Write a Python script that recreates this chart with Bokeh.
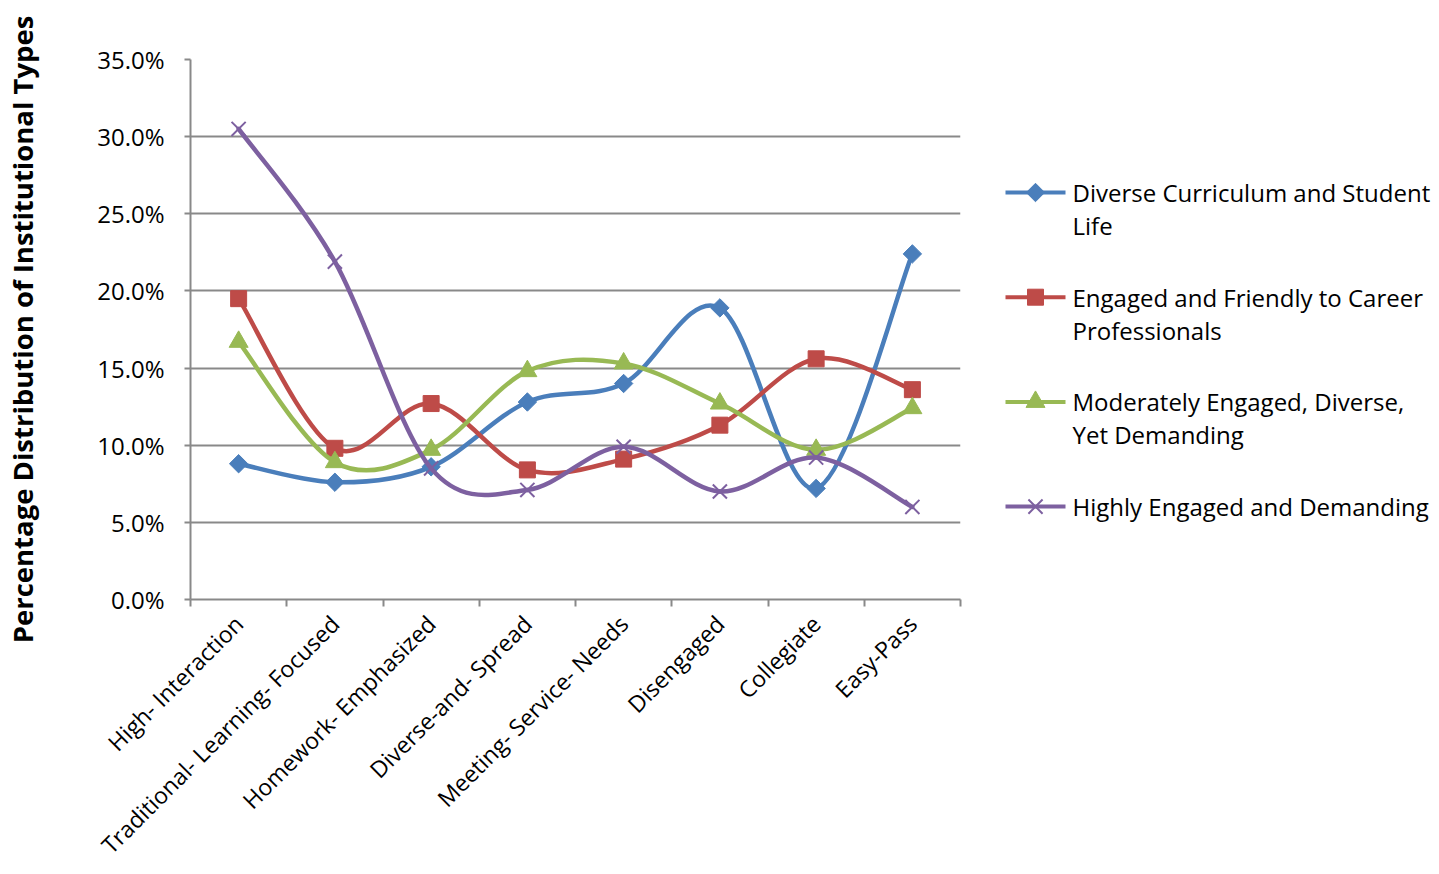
import numpy as np
from bokeh.plotting import figure
from bokeh.models import Range1d, FixedTicker
from bokeh.layouts import row
from bokeh.core.properties import value
from bokeh.embed import file_html
from bokeh.resources import INLINE

# ---------------- data ----------------
categories = ["High- Interaction", "Traditional- Learning- Focused", "Homework- Emphasized",
              "Diverse-and- Spread", "Meeting- Service- Needs", "Disengaged", "Collegiate", "Easy-Pass"]
diverse_curriculum = [8.8, 7.6, 8.6, 12.8, 14.0, 18.9, 7.2, 22.4]
engaged_friendly = [19.5, 9.8, 12.7, 8.4, 9.1, 11.3, 15.6, 13.6]
moderately_engaged = [16.7, 8.9, 9.7, 14.8, 15.3, 12.7, 9.7, 12.4]
highly_engaged = [30.5, 21.9, 8.5, 7.1, 9.9, 7.0, 9.2, 6.0]
series_names = ["Diverse Curriculum and Student Life",
                "Engaged and Friendly to Career Professionals",
                "Moderately Engaged, Diverse, Yet Demanding",
                "Highly Engaged and Demanding"]
legend_lines = [["Diverse Curriculum and Student", "Life"],
                ["Engaged and Friendly to Career", "Professionals"],
                ["Moderately Engaged, Diverse,", "Yet Demanding"],
                ["Highly Engaged and Demanding"]]
y_ticks = [0, 5, 10, 15, 20, 25, 30, 35]
y_tick_labels = ["0.0%", "5.0%", "10.0%", "15.0%", "20.0%", "25.0%", "30.0%", "35.0%"]
y_title = "Percentage Distribution of Institutional Types"

# ---------------- styles ----------------
FONT = "Open Sans"
GRAY = "#898989"
colors = ["#4A7EBB", "#BE4B48", "#98B954", "#7D60A0"]
all_series = [diverse_curriculum, engaged_friendly, moderately_engaged, highly_engaged]

W_MAIN = 985
BORDER_TOP = 59
BORDER_BOTTOM = 275
H = 874
p = figure(width=W_MAIN, height=H, output_backend="svg", toolbar_location=None,
           x_range=Range1d(0, len(categories)), y_range=Range1d(0, 35),
           min_border_left=190, min_border_right=25, min_border_top=BORDER_TOP,
           min_border_bottom=BORDER_BOTTOM)
p.outline_line_color = None
p.background_fill_color = "white"
p.border_fill_color = "white"

# x axis
centers = [i + 0.5 for i in range(len(categories))]
xa = p.xaxis[0]
xa.ticker = FixedTicker(ticks=centers, minor_ticks=list(range(len(categories) + 1)))
xa.major_label_overrides = {c: lab for c, lab in zip(centers, categories)}
xa.major_tick_out = 0
xa.major_tick_in = 0
xa.minor_tick_out = 7
xa.minor_tick_in = 0
xa.minor_tick_line_color = GRAY
xa.minor_tick_line_width = 2
xa.axis_line_color = GRAY
xa.axis_line_width = 2
xa.major_label_orientation = np.pi / 4
xa.major_label_text_font = FONT
xa.major_label_text_font_size = "23px"
xa.major_label_text_color = "black"
xa.major_label_standoff = 13

# y axis
ya = p.yaxis[0]
ya.ticker = FixedTicker(ticks=y_ticks, minor_ticks=[])
ya.major_label_overrides = {t: lab for t, lab in zip(y_ticks, y_tick_labels)}
ya.major_tick_out = 6
ya.major_tick_in = 0
ya.major_tick_line_color = GRAY
ya.major_tick_line_width = 2
ya.axis_line_color = GRAY
ya.axis_line_width = 2
ya.major_label_text_font = FONT
ya.major_label_text_font_size = "24px"
ya.major_label_text_color = "black"
ya.major_label_standoff = 20
ya.axis_label = y_title
ya.axis_label_text_font = FONT
ya.axis_label_text_font_style = "bold"
ya.axis_label_text_font_size = "27.5px"
ya.axis_label_text_color = "black"
ya.axis_label_standoff = 53

p.xgrid.grid_line_color = None
p.ygrid.ticker = FixedTicker(ticks=y_ticks)
p.ygrid.grid_line_color = GRAY
p.ygrid.grid_line_width = 2


def smooth_segments(xs, ys):
    xs = np.asarray(xs, float)
    ys = np.asarray(ys, float)
    n = len(xs)
    xp = np.concatenate([[xs[0]], xs, [xs[-1]]])
    yp = np.concatenate([[ys[0]], ys, [ys[-1]]])
    x0, y0, x1, y1, cx0, cy0, cx1, cy1 = ([] for _ in range(8))
    for i in range(n - 1):
        j = i + 1
        x0.append(xp[j]); y0.append(yp[j])
        x1.append(xp[j + 1]); y1.append(yp[j + 1])
        cx0.append(xp[j] + (xp[j + 1] - xp[j - 1]) / 6)
        cy0.append(yp[j] + (yp[j + 1] - yp[j - 1]) / 6)
        cx1.append(xp[j + 1] - (xp[j + 2] - xp[j]) / 6)
        cy1.append(yp[j + 1] - (yp[j + 2] - yp[j]) / 6)
    return dict(x0=x0, y0=y0, x1=x1, y1=y1, cx0=cx0, cy0=cy0, cx1=cx1, cy1=cy1)


def draw_marker(fig, k, xs, ys, color):
    if k == 0:
        fig.scatter(xs, ys, marker="square", angle=np.pi / 4, size=13,
                    fill_color=color, line_color=color, line_width=1)
    elif k == 1:
        fig.scatter(xs, ys, marker="square", size=16,
                    fill_color=color, line_color=color, line_width=1)
    elif k == 2:
        fig.scatter(xs, ys, marker="triangle", size=19,
                    fill_color=color, line_color=color, line_width=1)
    else:
        fig.scatter(xs, ys, marker="x", size=20,
                    line_color=color, line_width=2)


for k, (vals, col) in enumerate(zip(all_series, colors)):
    seg = smooth_segments(centers, vals)
    p.bezier(x0=seg["x0"], y0=seg["y0"], x1=seg["x1"], y1=seg["y1"],
             cx0=seg["cx0"], cy0=seg["cy0"], cx1=seg["cx1"], cy1=seg["cy1"],
             line_color=col, line_width=4.5, line_cap="round")
    draw_marker(p, k, centers, vals, col)

# ---------------- legend panel ----------------
# frame of this panel is aligned with the main frame; its ranges are in screen pixels
W_LEG = 1439 - W_MAIN
lg = figure(width=W_LEG, height=H, output_backend="svg", toolbar_location=None,
            x_range=Range1d(0, W_LEG), y_range=Range1d(H - BORDER_BOTTOM, BORDER_TOP),
            min_border_left=0, min_border_right=0,
            min_border_top=BORDER_TOP, min_border_bottom=BORDER_BOTTOM)
lg.axis.visible = False
lg.grid.visible = False
lg.outline_line_color = None

leg_x0 = 1005 - W_MAIN
leg_x1 = 1065 - W_MAIN
text_x = 1072 - W_MAIN
first_y = 192
item_gap = 104.7
line_gap = 33
for k, (lines, col) in enumerate(zip(legend_lines, colors)):
    yy = first_y + k * item_gap
    lg.line([leg_x0, leg_x1], [yy, yy], line_color=col, line_width=4)
    draw_marker(lg, k, [(leg_x0 + leg_x1) / 2], [yy], col)
    lg.text([text_x] * len(lines), [yy + m * line_gap for m in range(len(lines))], text=lines,
            text_font=value(FONT), text_font_size="24px", text_color="black",
            text_baseline="middle", text_align="left")

layout = row(p, lg, spacing=0)
open("out.html", "w").write(file_html(layout, INLINE))
